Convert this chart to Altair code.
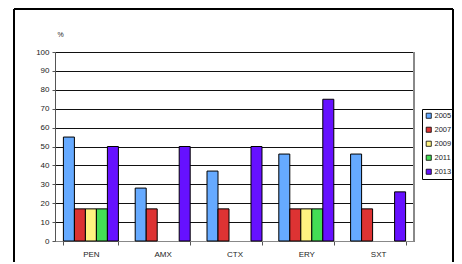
import altair as alt
import pandas as pd

categories = ["PEN", "AMX", "CTX", "ERY", "SXT"]
years = ["2005", "2007", "2009", "2011", "2013"]
v2005 = [55, 28, 37, 46, 46]
v2007 = [17, 17, 17, 17, 17]
v2009 = [17, None, None, 17, None]
v2011 = [17, None, None, 17, None]
v2013 = [50, 50, 50, 75, 26]
colors = ["#66AAFF", "#DD3333", "#FFF380", "#44DD55", "#6611FF"]

rows = []
for yr, vals in zip(years, [v2005, v2007, v2009, v2011, v2013]):
    for c, v in zip(categories, vals):
        if v is not None:
            rows.append({"drug": c, "year": yr, "value": v})
df = pd.DataFrame(rows)

W, H = 359, 189
FONT = "Liberation Sans"

bars = alt.Chart(df).mark_bar(stroke="black", strokeWidth=1).encode(
    x=alt.X("drug:N", sort=categories,
            scale=alt.Scale(paddingInner=0.234, paddingOuter=0.117),
            axis=alt.Axis(title=None, labelAngle=0, tickBand="extent", grid=False,
                          domainColor="#888888", tickColor="#555555", tickSize=4,
                          labelFontSize=8, labelColor="#222222", labelFont=FONT,
                          labelPadding=5)),
    xOffset=alt.XOffset("year:N", sort=years, scale=alt.Scale(domain=years)),
    y=alt.Y("value:Q", scale=alt.Scale(domain=[0, 100]),
            axis=alt.Axis(title="%", titleAngle=0, titleX=2, titleY=-15, titleAlign="left",
                          titleFontSize=7, titleFont=FONT, titleFontWeight="normal",
                          titleColor="#222222",
                          values=list(range(0, 101, 10)), grid=True, gridColor="#111111",
                          gridWidth=1, domainColor="#555555", tickColor="#555555",
                          tickSize=3, labelFontSize=8, labelColor="#222222",
                          labelFont=FONT, labelPadding=3)),
    color=alt.Color("year:N", sort=years,
                    scale=alt.Scale(domain=years, range=colors),
                    legend=alt.Legend(title=None, orient="none", legendX=367, legendY=57,
                                      symbolType="square", symbolSize=26,
                                      symbolStrokeColor="black", symbolStrokeWidth=0.8,
                                      labelFontSize=7.5, labelFont=FONT, labelColor="#222222",
                                      strokeColor="black", padding=3, rowPadding=5,
                                      labelOffset=2)),
)

# outer chart frame and plot-area right border (decorations)
top = alt.Chart(df).mark_rule(color="black", strokeWidth=1.2).encode(
    x=alt.value(-41), x2=alt.value(398), y=alt.value(-43))
left = alt.Chart(df).mark_rule(color="black", strokeWidth=1.2).encode(
    x=alt.value(-41), y=alt.value(-43), y2=alt.value(230))
right = alt.Chart(df).mark_rule(color="black", strokeWidth=1.2).encode(
    x=alt.value(398), y=alt.value(-43), y2=alt.value(230))
vborder = alt.Chart(df).mark_rule(color="#888888", strokeWidth=1).encode(
    x=alt.value(W), y=alt.value(0), y2=alt.value(H))

chart = alt.layer(vborder, bars, top, left, right).properties(
    width=W, height=H,
    autosize=alt.AutoSizeParams(type="none"),
    padding={"left": 47, "top": 44, "right": 40, "bottom": 21},
)

chart.save("out.html", embed_options={"renderer": "svg", "actions": False})
